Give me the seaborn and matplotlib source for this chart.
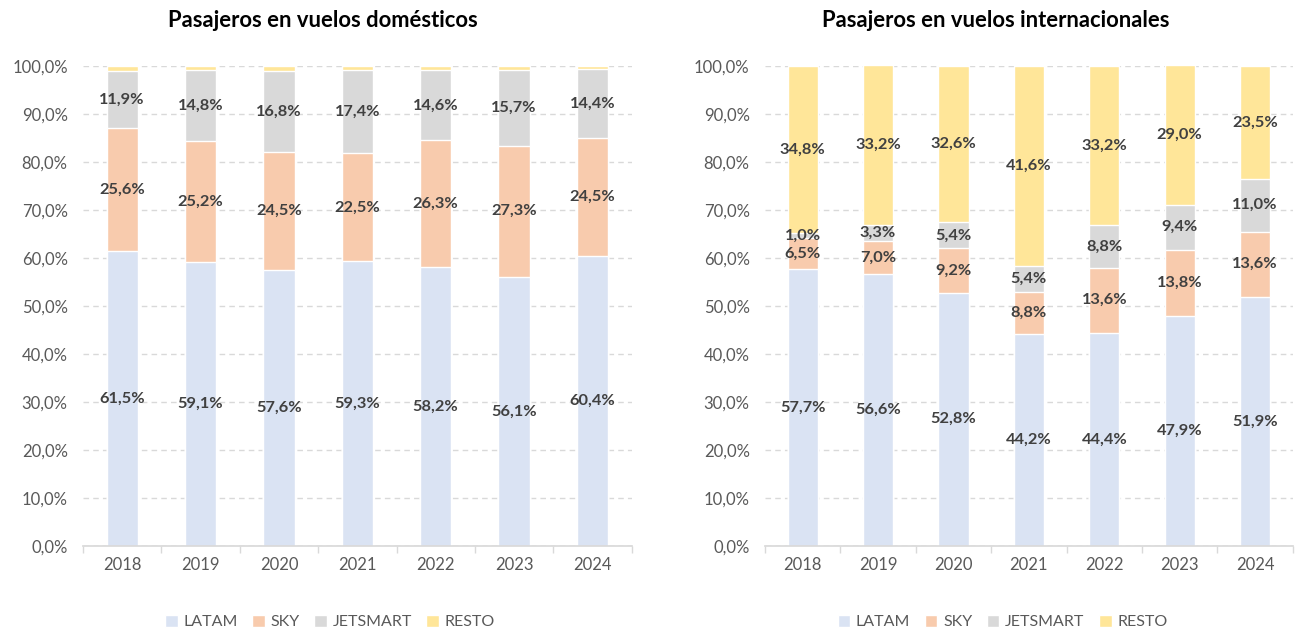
import matplotlib
matplotlib.use('Agg')
import matplotlib.pyplot as plt
import matplotlib.ticker as mtick
import pandas as pd
import seaborn as sns
import numpy as np

years = ['2018', '2019', '2020', '2021', '2022', '2023', '2024']
series = ['LATAM', 'SKY', 'JETSMART', 'RESTO']
colors = ['#DAE3F3', '#F8CBAD', '#D9D9D9', '#FFE699']

# vuelos domesticos (%)
dom_latam = [61.5, 59.1, 57.6, 59.3, 58.2, 56.1, 60.4]
dom_sky = [25.6, 25.2, 24.5, 22.5, 26.3, 27.3, 24.5]
dom_jet = [11.9, 14.8, 16.8, 17.4, 14.6, 15.7, 14.4]
dom_resto = [1.0, 0.9, 1.1, 0.8, 0.9, 0.9, 0.7]

# vuelos internacionales (%)
int_latam = [57.7, 56.6, 52.8, 44.2, 44.4, 47.9, 51.9]
int_sky = [6.5, 7.0, 9.2, 8.8, 13.6, 13.8, 13.6]
int_jet = [1.0, 3.3, 5.4, 5.4, 8.8, 9.4, 11.0]
int_resto = [34.8, 33.2, 32.6, 41.6, 33.2, 29.0, 23.5]

sns.set_theme(style='white')
plt.rcParams['font.family'] = ['Lato', 'DejaVu Sans']

fig = plt.figure(figsize=(12.97, 6.3), dpi=100)
ax1 = fig.add_axes([0.064, 0.1333, 0.423, 0.762])
ax2 = fig.add_axes([0.5898, 0.1333, 0.407, 0.762])


def draw(ax, data, title, labelled):
    df = pd.DataFrame(dict(zip(series, data)), index=years)
    cum = df.cumsum(axis=1)
    # draw from top layer down so each bar covers the one above it
    for s, c in reversed(list(zip(series, colors))):
        sns.barplot(x=years, y=cum[s].values, color=c, width=0.4,
                    saturation=1, ax=ax, zorder=2, label=s)
    # data labels in the middle of each segment
    for s in labelled:
        mids = cum[s] - df[s] / 2
        for i, y in enumerate(years):
            ax.text(i, mids[y], f'{df.loc[y, s]:.1f}%'.replace('.', ','),
                    ha='center', va='center', fontsize=11.8,
                    fontweight='bold', color='#404040', zorder=3)
    ax.set_ylim(0, 100)
    ax.set_xlim(-0.5, len(years) - 0.5)
    ax.set_yticks(np.arange(0, 101, 10))
    ax.yaxis.set_major_formatter(mtick.FuncFormatter(lambda v, p: f'{v:.1f}%'.replace('.', ',')))
    ax.grid(axis='y', color='#D9D9D9', linestyle=(0, (4, 3)), linewidth=1, zorder=0)
    for sp in ['top', 'right', 'left']:
        ax.spines[sp].set_visible(False)
    ax.spines['bottom'].set_color('#D9D9D9')
    ax.tick_params(axis='both', labelsize=12, labelcolor='#595959', length=0)
    ax.tick_params(axis='y', pad=11)
    ax.tick_params(axis='x', pad=8)
    ax.set_xticks(np.arange(-0.5, len(years), 1), minor=True)
    ax.tick_params(axis='x', which='minor', length=5, color='#D9D9D9', bottom=True)
    ax.set_xlabel('')
    ax.set_ylabel('')
    ax.set_title(title, fontsize=15.8, fontweight='bold', color='black',
                 pad=28, x=0.438)
    handles, labels = ax.get_legend_handles_labels()
    order = [labels.index(s) for s in series]
    ax.legend([handles[k] for k in order], series, loc='center',
              bbox_to_anchor=(0.45, -0.158), ncol=4, frameon=False,
              fontsize=11.5, labelcolor='#595959', handlelength=0.8,
              handleheight=0.8, handletextpad=0.35, columnspacing=0.9)


draw(ax1, [dom_latam, dom_sky, dom_jet, dom_resto],
     'Pasajeros en vuelos domésticos', ['LATAM', 'SKY', 'JETSMART'])
draw(ax2, [int_latam, int_sky, int_jet, int_resto],
     'Pasajeros en vuelos internacionales', series)

fig.savefig('out.png', dpi=100)
